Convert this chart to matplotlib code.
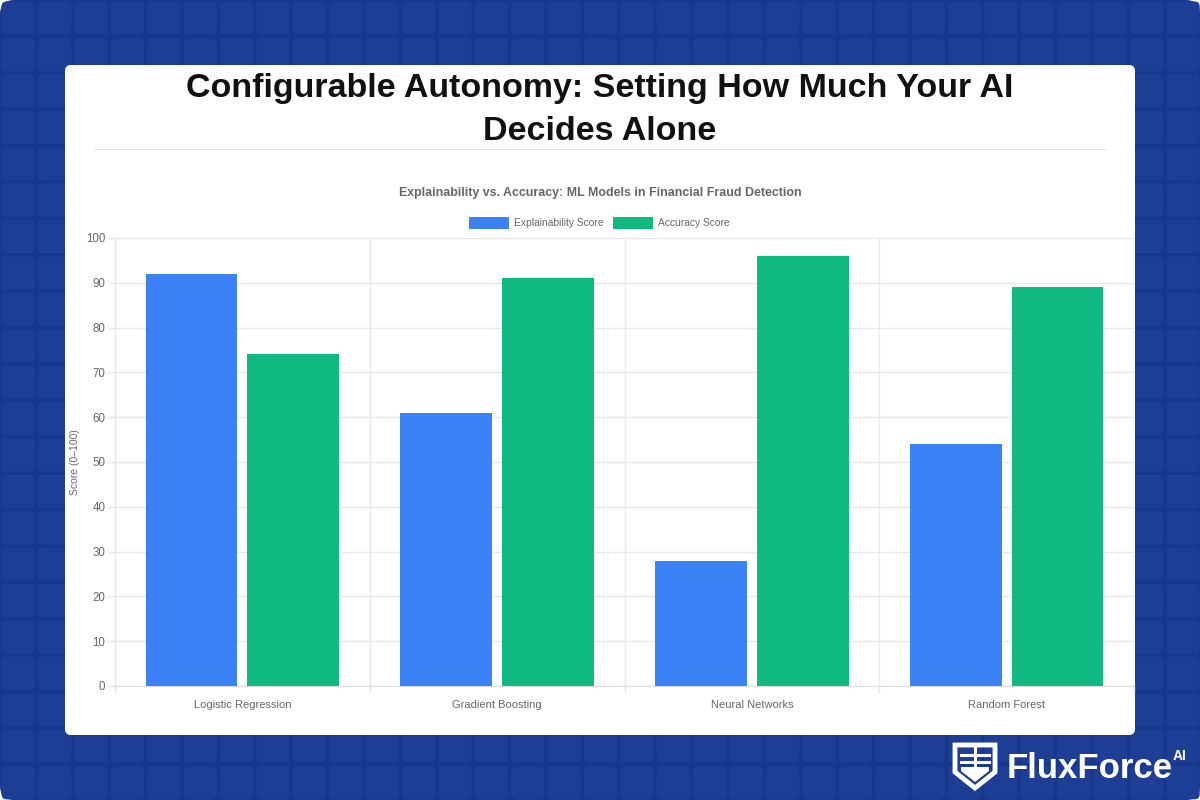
import numpy as np
import matplotlib
matplotlib.use('Agg')
from matplotlib import pyplot as plt
from matplotlib.patches import FancyBboxPatch, Rectangle, Polygon
from matplotlib.transforms import IdentityTransform

plt.rcParams['font.family'] = ['Liberation Sans', 'DejaVu Sans']

# data
models = ['Logistic Regression', 'Gradient Boosting', 'Neural Networks', 'Random Forest']
explainability = [92, 61, 28, 54]
accuracy = [74, 91, 96, 89]
y_ticks = list(range(0, 101, 10))

W, H = 1200, 800
fig = plt.figure(figsize=(12, 8), dpi=100)
fig.patch.set_facecolor('white')
ident = IdentityTransform()


def box(x, y, w, h, r, color, z=0):
    # x, y from the top-left in pixels
    p = FancyBboxPatch((x + r, H - y - h + r), w - 2 * r, h - 2 * r,
                       boxstyle='round,pad=%g' % r, transform=ident,
                       facecolor=color, edgecolor='none', zorder=z)
    fig.patches.append(p)


# tiled dark blue background
box(0, 0, W, H, 14, '#18368c', z=0)
pitch = 36.4
for i in range(34):
    for j in range(23):
        box(i * pitch + 1.5, j * pitch + 1.5, pitch - 3, pitch - 3, 5, '#1e3d94', z=0.5)

# white card
box(65, 65, 1070, 670, 6, 'white', z=1)

fig.text(600 / W, 1 - 89 / H, 'Configurable Autonomy: Setting How Much Your AI',
         ha='center', va='center', fontsize=24.5, fontweight='bold', color='#111111')
fig.text(600 / W, 1 - 132 / H, 'Decides Alone',
         ha='center', va='center', fontsize=24.5, fontweight='bold', color='#111111')
fig.lines.append(plt.Line2D([95 / W, 1105 / W], [1 - 149 / H, 1 - 149 / H],
                            transform=fig.transFigure, color='#e3e3e3', lw=1, zorder=2))

fig.text(600 / W, 1 - 193 / H,
         'Explainability vs. Accuracy: ML Models in Financial Fraud Detection',
         ha='center', va='center', fontsize=8.9, fontweight='bold', color='#666666')

blue = '#3b82f6'
green = '#10b981'

ax = fig.add_axes([115 / W, 1 - 686 / H, 1019 / W, 448 / H])
ax.set_zorder(3)
ax.patch.set_alpha(0)
x = np.arange(len(models))
ax.bar(x - 0.2, explainability, width=0.36, color=blue, zorder=3, label='Explainability Score')
ax.bar(x + 0.2, accuracy, width=0.36, color=green, zorder=3, label='Accuracy Score')

ax.set_xlim(-0.5, len(models) - 0.5)
ax.set_ylim(0, 100)
ax.set_yticks(y_ticks)
ax.set_xticks(x)
ax.set_xticklabels(models)
ax.set_xticks(np.arange(-0.5, len(models), 1.0), minor=True)
ax.tick_params(axis='x', which='major', length=0, pad=10, labelsize=8, labelcolor='#666666')
ax.tick_params(axis='x', which='minor', length=5, color='#e5e5e5', width=1)
ax.tick_params(axis='y', length=5, color='#e5e5e5', width=1, pad=2,
               labelsize=8.3, labelcolor='#666666')
ax.grid(True, axis='y', color='#e8e8e8', lw=1, zorder=0)
ax.grid(True, axis='x', which='minor', color='#e8e8e8', lw=1, zorder=0)
for s in ['top', 'right']:
    ax.spines[s].set_visible(False)
ax.spines['left'].set_color('#e5e5e5')
ax.spines['bottom'].set_color('#dddddd')
fig.text(75 / W, 1 - 462 / H, 'Score (0–100)', rotation=90, ha='center', va='center',
         fontsize=7.5, color='#666666', zorder=4)

# legend
fig.patches.append(Rectangle((469, H - 229), 40, 12, transform=ident,
                             facecolor=blue, edgecolor='none', zorder=4))
fig.text(514 / W, 1 - 223 / H, 'Explainability Score', ha='left', va='center',
         fontsize=7.4, color='#666666')
fig.patches.append(Rectangle((613, H - 229), 40, 12, transform=ident,
                             facecolor=green, edgecolor='none', zorder=4))
fig.text(658 / W, 1 - 223 / H, 'Accuracy Score', ha='left', va='center',
         fontsize=7.4, color='#666666')

# FluxForce logo
def pt(px, py):
    return (px, H - py)

shield = [pt(955, 745), pt(995, 745), pt(995, 772), pt(975, 788), pt(955, 772)]
fig.patches.append(Polygon(shield, closed=True, transform=ident, facecolor='none',
                           edgecolor='white', lw=3.5, joinstyle='miter', zorder=5))
inner = [pt(961, 767), pt(989, 767), pt(989, 771), pt(975, 782), pt(961, 771)]
fig.patches.append(Polygon(inner, closed=True, transform=ident, facecolor='white',
                           edgecolor='none', zorder=5))
for yy in [755, 762]:
    fig.lines.append(plt.Line2D([961, 989], [H - yy, H - yy], transform=ident,
                                color='white', lw=2.2, zorder=5))
fig.lines.append(plt.Line2D([975, 975], [H - 747, H - 767], transform=ident,
                            color='white', lw=2.2, zorder=5))
fig.text(1007 / W, 1 - 769 / H, 'FluxForce', ha='left', va='center',
         fontsize=25, fontweight='bold', color='white', zorder=5)
fig.text(1173 / W, 1 - 756 / H, 'AI', ha='left', va='center',
         fontsize=10, fontweight='bold', color='white', zorder=5)

fig.savefig('out.png', dpi=100, facecolor=fig.get_facecolor())
